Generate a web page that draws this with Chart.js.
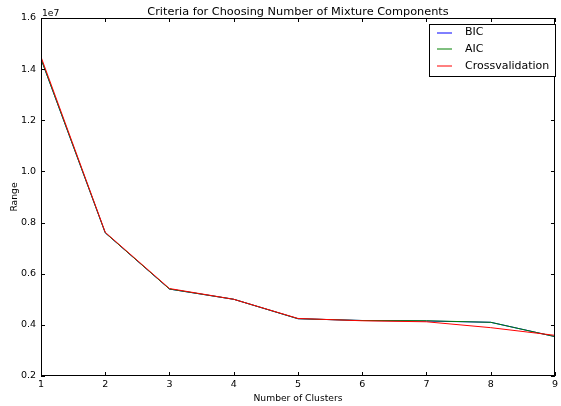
<!DOCTYPE html>
<html><head><meta charset="utf-8">
<script src="https://cdn.jsdelivr.net/npm/chart.js@4/dist/chart.umd.min.js"></script>
<style>html,body{margin:0;padding:0;background:#fff}#wrap{width:561px;height:406px;position:relative}</style>
</head><body><div id="wrap"><canvas id="c" width="561" height="406"></canvas></div>
<script>
const clusters = [1, 2, 3, 4, 5, 6, 7, 8, 9];
const bic = [14400000, 7600000, 5400000, 5000000, 4240000, 4170000, 4150000, 4100000, 3540000];
const aic = [14400000, 7600000, 5400000, 5000000, 4240000, 4170000, 4160000, 4100000, 3540000];
const crossval = [14480000, 7620000, 5420000, 5000000, 4250000, 4160000, 4120000, 3890000, 3590000];
const seriesNames = ['BIC', 'AIC', 'Crossvalidation'];
const seriesColors = ['#0000ff', '#008000', '#ff0000'];
const yTicks = [0.2, 0.4, 0.6, 0.8, 1.0, 1.2, 1.4, 1.6];
const FONT = 'DejaVu Sans';

const toPts = arr => arr.map((v, i) => ({x: clusters[i], y: v}));
const decor = {
  id: 'decor',
  afterDatasetsDraw(chart) {
    const {ctx, chartArea: a, scales} = chart;
    ctx.save();
    ctx.strokeStyle = '#000';
    ctx.lineWidth = 1;
    ctx.beginPath();
    scales.x.ticks.forEach(t => {
      const px = Math.round(scales.x.getPixelForValue(t.value)) + 0.5;
      ctx.moveTo(px, a.bottom); ctx.lineTo(px, a.bottom - 4);
      ctx.moveTo(px, a.top); ctx.lineTo(px, a.top + 4);
    });
    scales.y.ticks.forEach(t => {
      const py = Math.round(scales.y.getPixelForValue(t.value)) + 0.5;
      ctx.moveTo(a.left, py); ctx.lineTo(a.left + 4, py);
      ctx.moveTo(a.right, py); ctx.lineTo(a.right - 4, py);
    });
    ctx.stroke();
    ctx.strokeRect(Math.round(a.left) + 0.5, Math.round(a.top) + 0.5, Math.round(a.right - a.left) - 1, Math.round(a.bottom - a.top) - 1);
    ctx.fillStyle = '#000';
    ctx.font = '11.3px "' + FONT + '"';
    ctx.textAlign = 'center'; ctx.textBaseline = 'alphabetic';
    ctx.fillText('Criteria for Choosing Number of Mixture Components', (a.left + a.right) / 2, 15);
    ctx.font = '9.2px "' + FONT + '"';
    ctx.textAlign = 'left';
    ctx.fillText('1e7', a.left + 1, 16);
    ctx.textAlign = 'center';
    ctx.fillText('Number of Clusters', (a.left + a.right) / 2, 401);
    ctx.save();
    ctx.translate(17, (a.top + a.bottom) / 2);
    ctx.rotate(-Math.PI / 2);
    ctx.fillText('Range', 0, 0);
    ctx.restore();
    const lx = 429, ly = 24, lw = 126, lh = 52;
    ctx.fillStyle = '#fff';
    ctx.fillRect(lx, ly, lw, lh);
    ctx.strokeStyle = '#000';
    ctx.strokeRect(lx + 0.5, ly + 0.5, lw, lh);
    ctx.font = '11px "' + FONT + '"';
    ctx.textAlign = 'left'; ctx.textBaseline = 'middle';
    seriesNames.forEach((name, i) => {
      const y = 32.5 + i * 16.7;
      ctx.strokeStyle = seriesColors[i];
      ctx.beginPath(); ctx.moveTo(437, Math.round(y)); ctx.lineTo(452, Math.round(y)); ctx.stroke();
      ctx.fillStyle = '#000';
      ctx.fillText(name, 465, y);
    });
    ctx.restore();
  }
};

new Chart(document.getElementById('c'), {
  type: 'line',
  data: {
    datasets: [bic, aic, crossval].map((arr, i) => ({
      label: seriesNames[i], data: toPts(arr), borderColor: seriesColors[i],
      borderWidth: 1, pointRadius: 0, tension: 0, fill: false, order: 2 - i
    }))
  },
  options: {
    responsive: false, animation: false, devicePixelRatio: 1,
    layout: {padding: {top: 18, right: 1, left: 0, bottom: 0}},
    plugins: {legend: {display: false}, title: {display: false}, tooltip: {enabled: false}},
    scales: {
      x: {
        type: 'linear', min: 1, max: 9,
        afterBuildTicks: s => { s.ticks = clusters.map(v => ({value: v})); },
        afterFit: s => { s.height = 30; },
        grid: {display: false, drawTicks: false},
        border: {display: false},
        ticks: {padding: 3, color: '#000', font: {family: FONT, size: 9.5}, callback: v => String(v), maxRotation: 0, autoSkip: false}
      },
      y: {
        type: 'linear', min: 2000000, max: 16000000,
        afterBuildTicks: s => { s.ticks = yTicks.map(v => ({value: v * 1e7})); },
        afterFit: s => { s.width = 41; },
        grid: {display: false, drawTicks: false},
        border: {display: false},
        ticks: {padding: 5, color: '#000', font: {family: FONT, size: 9.5}, callback: v => (v / 1e7).toFixed(1), autoSkip: false}
      }
    }
  },
  plugins: [decor]
});
</script></body></html>
